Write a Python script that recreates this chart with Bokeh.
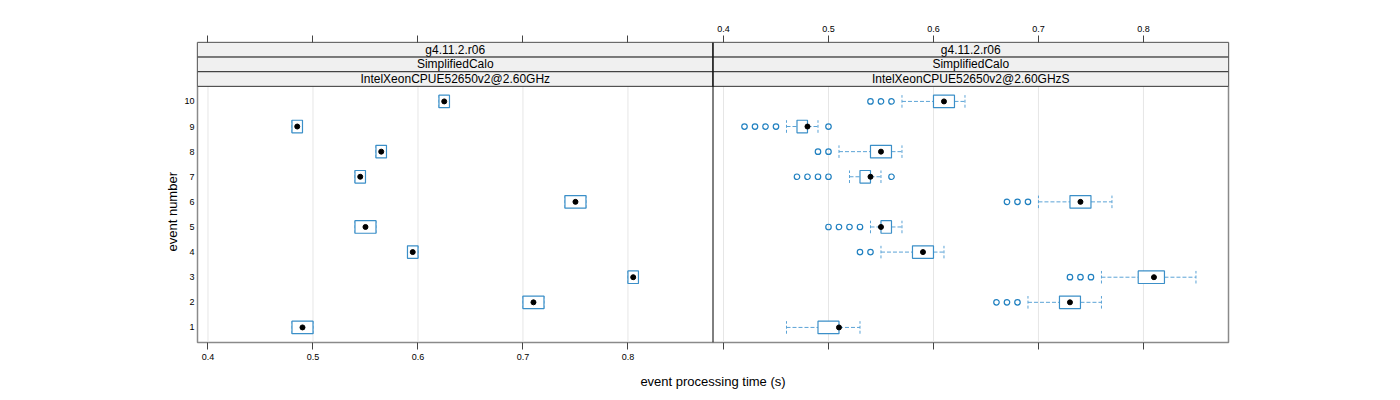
from bokeh.plotting import figure
from bokeh.models import Range1d, LinearAxis, FixedTicker, CustomJSTickFormatter, Span, Title
from bokeh.core.properties import value
from bokeh.embed import file_html
from bokeh.resources import INLINE

# ---------------- data ----------------
EVENTS = [1, 2, 3, 4, 5, 6, 7, 8, 9, 10]
X_TICKS = [0.4, 0.5, 0.6, 0.7, 0.8]
Y_TICKS = [1, 2, 3, 4, 5, 6, 7, 8, 9, 10]

STRIP_TOP = ["g4.11.2.r06", "g4.11.2.r06"]
STRIP_MID = ["SimplifiedCalo", "SimplifiedCalo"]
STRIP_BOT = ["IntelXeonCPUE52650v2@2.60GHz", "IntelXeonCPUE52650v2@2.60GHzS"]

# left panel (IntelXeonCPUE52650v2@2.60GHz)
L_Q1 = [0.48, 0.70, 0.80, 0.59, 0.54, 0.74, 0.54, 0.56, 0.48, 0.62]
L_MED = [0.49, 0.71, 0.805, 0.595, 0.55, 0.75, 0.545, 0.565, 0.485, 0.625]
L_Q3 = [0.50, 0.72, 0.81, 0.60, 0.56, 0.76, 0.55, 0.57, 0.49, 0.63]
L_WLO = [0.48, 0.70, 0.80, 0.59, 0.54, 0.74, 0.54, 0.56, 0.48, 0.62]
L_WHI = [0.50, 0.72, 0.81, 0.60, 0.56, 0.76, 0.55, 0.57, 0.49, 0.63]
L_OUT_EVENT = []
L_OUT_TIME = []

# right panel (IntelXeonCPUE52650v2@2.60GHzS)
R_Q1 = [0.49, 0.72, 0.795, 0.58, 0.55, 0.73, 0.53, 0.54, 0.47, 0.60]
R_MED = [0.51, 0.73, 0.81, 0.59, 0.55, 0.74, 0.54, 0.55, 0.48, 0.61]
R_Q3 = [0.51, 0.74, 0.82, 0.60, 0.56, 0.75, 0.54, 0.56, 0.48, 0.62]
R_WLO = [0.46, 0.69, 0.76, 0.55, 0.54, 0.70, 0.52, 0.51, 0.46, 0.57]
R_WHI = [0.53, 0.76, 0.85, 0.61, 0.57, 0.77, 0.55, 0.57, 0.49, 0.63]
R_OUT_EVENT = [2, 2, 2, 3, 3, 3, 4, 4, 5, 5, 5, 5, 6, 6, 6,
               7, 7, 7, 7, 7, 8, 8, 9, 9, 9, 9, 9, 10, 10, 10]
R_OUT_TIME = [0.66, 0.67, 0.68, 0.73, 0.74, 0.75, 0.53, 0.54, 0.50, 0.51, 0.52, 0.53,
              0.67, 0.68, 0.69, 0.47, 0.48, 0.49, 0.50, 0.56, 0.49, 0.50,
              0.42, 0.43, 0.44, 0.45, 0.50, 0.54, 0.55, 0.56]

X_LABEL = "event processing time (s)"
Y_LABEL = "event number"

# ---------------- layout / style ----------------
X0, X1 = 0.39, 0.881
W = X1 - X0
Y0, YB = 0.4, 10.6
SH = 0.582
YTOP = YB + 3 * SH
FONT = "Liberation Sans"
BOX_COL = "#3b8fc8"
WHISK_COL = "#5ba3d6"
OUT_COL = "#2080c0"
BOX_H = 0.5

p = figure(frame_width=1031, frame_height=300,
           x_range=Range1d(X0, X0 + 2 * W), y_range=Range1d(Y0, YTOP),
           output_backend="svg", toolbar_location=None,
           min_border_left=197, min_border_right=156,
           min_border_top=42, min_border_bottom=50)
p.extra_x_ranges = {"right": Range1d(X0 - W, X1)}
p.xgrid.visible = False
p.ygrid.visible = False
p.outline_line_color = "#8a8a8a"
p.outline_line_width = 1.5
p.background_fill_color = "white"
p.border_fill_color = "white"

# bottom axis: labelled ticks for left panel, unlabelled for right panel
xb = p.xaxis[0]
xb.ticker = FixedTicker(ticks=X_TICKS + [t + W for t in X_TICKS])
xb.formatter = CustomJSTickFormatter(code="return tick > %f ? '' : tick.toFixed(1);" % (X1 + 0.001))
xb.axis_label = X_LABEL

# top axis: labelled ticks for right panel, unlabelled for left panel
xt = LinearAxis(x_range_name="right",
                ticker=FixedTicker(ticks=[t - W for t in X_TICKS] + X_TICKS),
                formatter=CustomJSTickFormatter(code="return tick < %f ? '' : tick.toFixed(1);" % (X0 - 0.001)))
p.add_layout(xt, "above")

yl = p.yaxis[0]
yl.ticker = FixedTicker(ticks=Y_TICKS)

for ax in [xb, xt, yl]:
    ax.axis_line_color = None
    ax.minor_tick_line_color = None
    ax.major_tick_line_color = "#444444"
    ax.major_tick_out = 7
    ax.major_tick_in = 0
    ax.major_label_text_font = FONT
    ax.major_label_text_font_size = "9px"
    ax.major_label_text_color = "black"
    ax.axis_label_text_font = FONT
    ax.axis_label_text_font_size = "13px"
    ax.axis_label_text_font_style = "normal"
    ax.axis_label_text_color = "black"
    ax.major_label_standoff = 4
yl.major_tick_line_color = None
yl.major_tick_out = 0
yl.major_label_standoff = 3
xb.axis_label_standoff = 11

# y label centred on the panel body (below the strips), as lattice does
p.add_layout(Title(text=Y_LABEL, align="left", offset=91, vertical_align="bottom",
                   standoff=4, text_font=FONT, text_font_size="13px",
                   text_font_style="normal", text_color="black"), "left")


def draw_panel(rng, q1, med, q3, wlo, whi, out_ev, out_t, idx):
    kw = {} if rng is None else {"x_range_name": rng}
    # grid
    p.segment(x0=X_TICKS, x1=X_TICKS, y0=[Y0] * len(X_TICKS), y1=[YB] * len(X_TICKS),
              line_color="#e6e6e6", line_width=1, **kw)
    # strips
    rows = [STRIP_TOP[idx], STRIP_MID[idx], STRIP_BOT[idx]]
    for k, lab in enumerate(rows):
        top = YTOP - k * SH
        bot = top - SH
        p.quad(left=[X0], right=[X1], bottom=[bot], top=[top],
               fill_color="#f0f0f0", line_color="#333333", line_width=1, **kw)
        p.text(x=[(X0 + X1) / 2], y=[(top + bot) / 2], text=[lab],
               text_font=value(FONT), text_font_size="12px", text_color="black",
               text_align="center", text_baseline="middle", **kw)
    # whiskers
    p.segment(x0=wlo, x1=q1, y0=EVENTS, y1=EVENTS, line_color=WHISK_COL,
              line_dash="4 2", line_width=1, **kw)
    p.segment(x0=q3, x1=whi, y0=EVENTS, y1=EVENTS, line_color=WHISK_COL,
              line_dash="4 2", line_width=1, **kw)
    lo = [e - BOX_H / 2 for e in EVENTS]
    hi = [e + BOX_H / 2 for e in EVENTS]
    p.segment(x0=wlo, x1=wlo, y0=lo, y1=hi, line_color=WHISK_COL,
              line_dash="3 2", line_width=1, **kw)
    p.segment(x0=whi, x1=whi, y0=lo, y1=hi, line_color=WHISK_COL,
              line_dash="3 2", line_width=1, **kw)
    # boxes
    p.hbar(y=EVENTS, left=q1, right=q3, height=BOX_H, fill_color="white",
           line_color=BOX_COL, line_width=1.2, **kw)
    # medians
    p.scatter(x=med, y=EVENTS, size=5, marker="circle", fill_color="black",
              line_color="black", **kw)
    # outliers
    if out_t:
        p.scatter(x=out_t, y=out_ev, size=5.5, marker="circle", fill_color=None,
                  line_color=OUT_COL, line_width=1.2, **kw)


draw_panel(None, L_Q1, L_MED, L_Q3, L_WLO, L_WHI, L_OUT_EVENT, L_OUT_TIME, 0)
draw_panel("right", R_Q1, R_MED, R_Q3, R_WLO, R_WHI, R_OUT_EVENT, R_OUT_TIME, 1)

p.add_layout(Span(location=X1, dimension="height", line_color="black", line_width=1))

open("out.html", "w").write(file_html(p, INLINE))
